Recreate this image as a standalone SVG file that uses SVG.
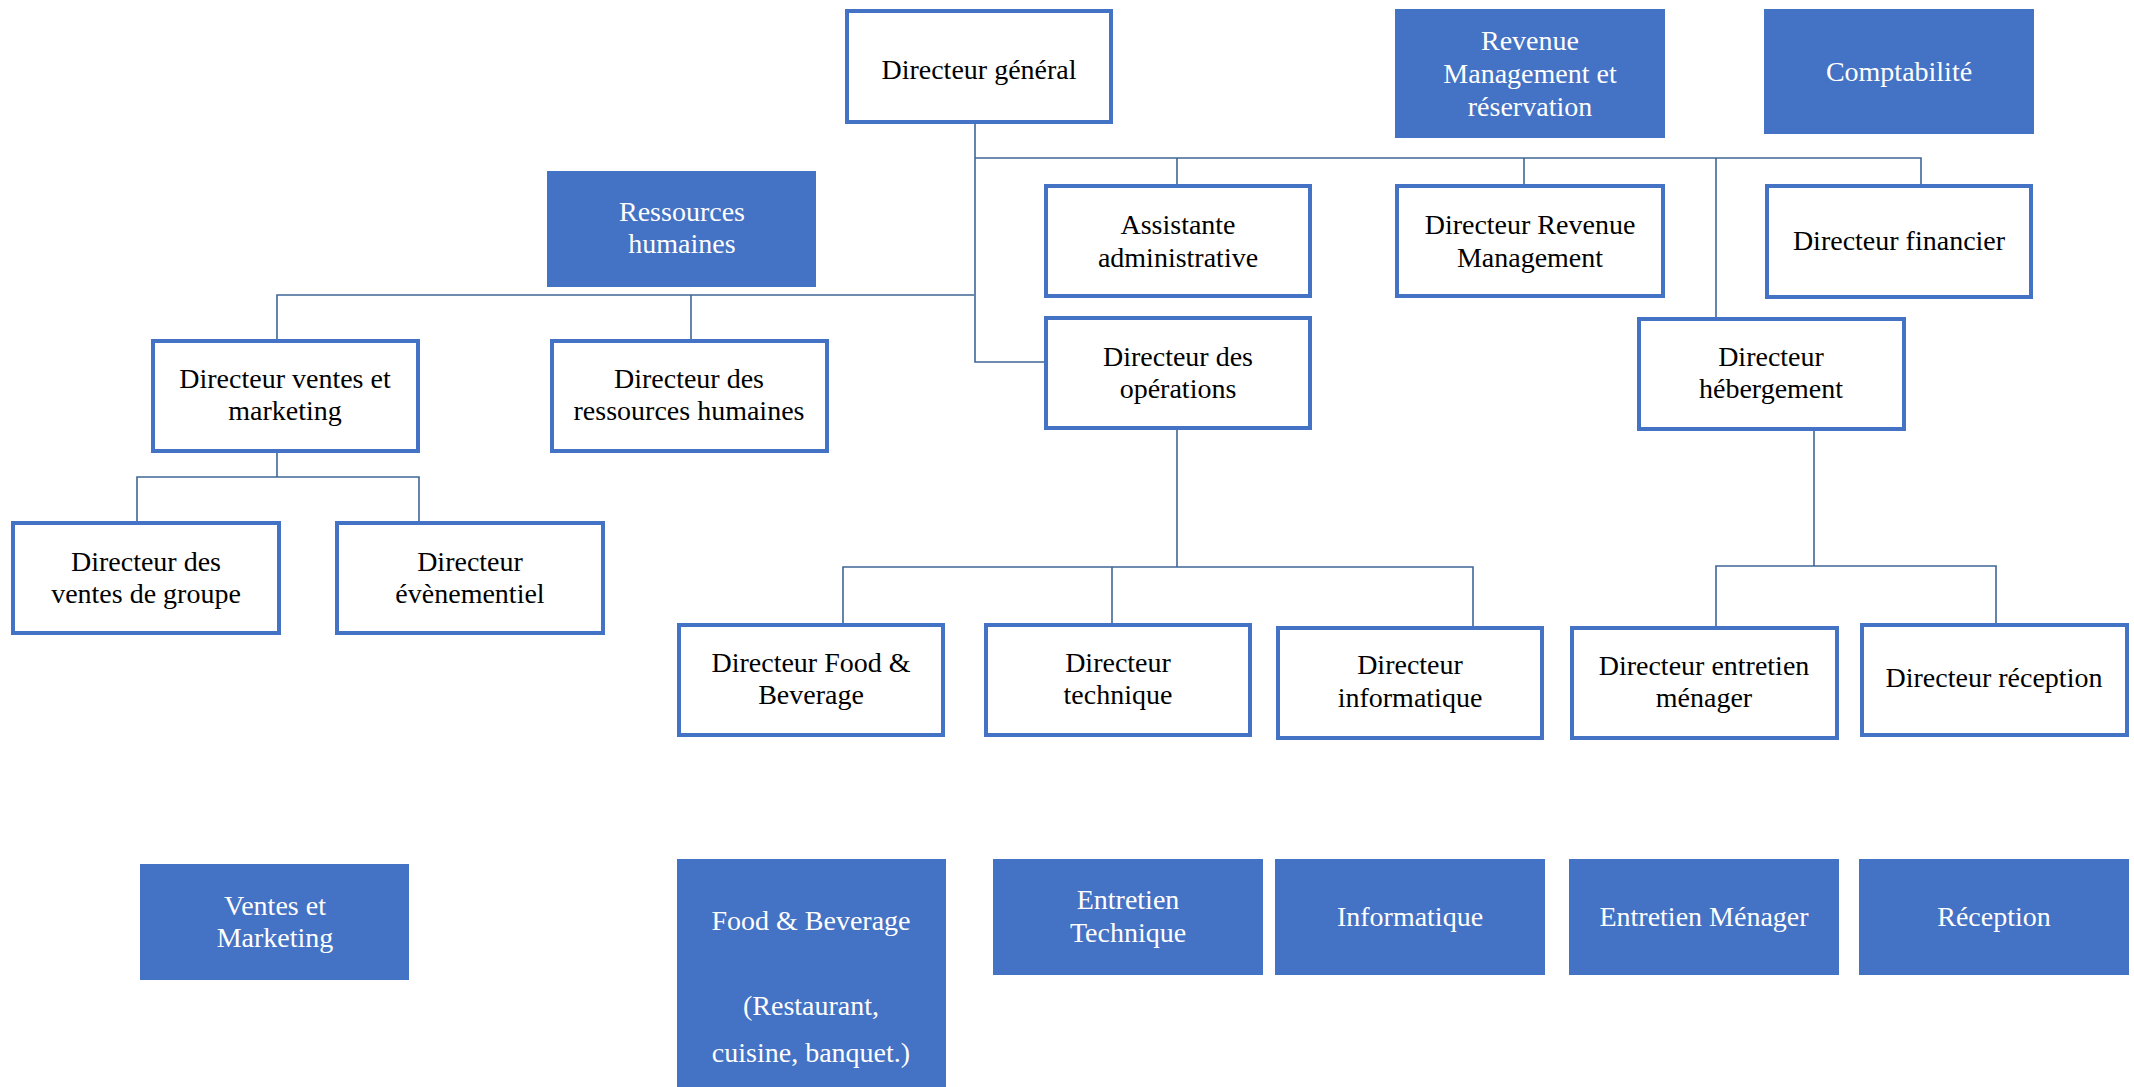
<svg xmlns="http://www.w3.org/2000/svg" width="2134" height="1087" viewBox="0 0 2134 1087">
  <style>
    .box { fill: #ffffff; stroke: #4472C4; stroke-width: 4; }
    .dept { fill: #4472C4; }
    text { font-family: 'Liberation Serif', 'Times New Roman', Times, serif; font-size: 28px; text-anchor: middle; }
    .lbl { fill: #000000; }
    .wlbl { fill: #ffffff; }
    .link { fill: none; stroke: #3F6597; stroke-width: 1.6; }
  </style>
  <rect width="2134" height="1087" fill="#ffffff"/>

  <!-- reporting lines -->
  <g id="connectors">
    <path class="link" d="M975,124 V362 H1044"/>
    <path class="link" d="M975,158 H1921 V184"/>
    <path class="link" d="M1177,158 V184"/>
    <path class="link" d="M1524,158 V184"/>
    <path class="link" d="M1716,158 V317"/>
    <path class="link" d="M974,295 H277 V339"/>
    <path class="link" d="M691,295 V339"/>
    <path class="link" d="M277,453 V477"/>
    <path class="link" d="M137,521 V477 H419 V521"/>
    <path class="link" d="M1177,430 V567"/>
    <path class="link" d="M843,623 V567 H1473 V626"/>
    <path class="link" d="M1112,567 V623"/>
    <path class="link" d="M1814,431 V566"/>
    <path class="link" d="M1716,626 V566 H1996 V623"/>
  </g>

  <!-- managers -->
  <g id="directeur-general" font-family="Liberation Serif, serif">
    <rect class="box" x="847" y="11" width="264" height="111"/>
    <text class="lbl" x="979" y="79">Directeur général</text>
  </g>
  <g id="assistante-administrative">
    <rect class="box" x="1046" y="186" width="264" height="110"/>
    <text class="lbl" x="1178" y="234">Assistante</text>
    <text class="lbl" x="1178" y="267">administrative</text>
  </g>
  <g id="directeur-revenue">
    <rect class="box" x="1397" y="186" width="266" height="110"/>
    <text class="lbl" x="1530" y="234">Directeur Revenue</text>
    <text class="lbl" x="1530" y="267">Management</text>
  </g>
  <g id="directeur-financier">
    <rect class="box" x="1767" y="186" width="264" height="111"/>
    <text class="lbl" x="1899" y="250">Directeur financier</text>
  </g>
  <g id="directeur-operations">
    <rect class="box" x="1046" y="318" width="264" height="110"/>
    <text class="lbl" x="1178" y="366">Directeur des</text>
    <text class="lbl" x="1178" y="398">opérations</text>
  </g>
  <g id="directeur-hebergement">
    <rect class="box" x="1639" y="319" width="265" height="110"/>
    <text class="lbl" x="1771" y="366">Directeur</text>
    <text class="lbl" x="1771" y="398">hébergement</text>
  </g>
  <g id="directeur-ventes-marketing">
    <rect class="box" x="153" y="341" width="265" height="110"/>
    <text class="lbl" x="285" y="388">Directeur ventes et</text>
    <text class="lbl" x="285" y="420">marketing</text>
  </g>
  <g id="directeur-rh">
    <rect class="box" x="552" y="341" width="275" height="110"/>
    <text class="lbl" x="689" y="388">Directeur des</text>
    <text class="lbl" x="689" y="420">ressources humaines</text>
  </g>
  <g id="directeur-ventes-groupe">
    <rect class="box" x="13" y="523" width="266" height="110"/>
    <text class="lbl" x="146" y="571">Directeur des</text>
    <text class="lbl" x="146" y="603">ventes de groupe</text>
  </g>
  <g id="directeur-evenementiel">
    <rect class="box" x="337" y="523" width="266" height="110"/>
    <text class="lbl" x="470" y="571">Directeur</text>
    <text class="lbl" x="470" y="603">évènementiel</text>
  </g>
  <g id="directeur-food-beverage">
    <rect class="box" x="679" y="625" width="264" height="110"/>
    <text class="lbl" x="811" y="672">Directeur Food &amp;</text>
    <text class="lbl" x="811" y="704">Beverage</text>
  </g>
  <g id="directeur-technique">
    <rect class="box" x="986" y="625" width="264" height="110"/>
    <text class="lbl" x="1118" y="672">Directeur</text>
    <text class="lbl" x="1118" y="704">technique</text>
  </g>
  <g id="directeur-informatique">
    <rect class="box" x="1278" y="628" width="264" height="110"/>
    <text class="lbl" x="1410" y="674">Directeur</text>
    <text class="lbl" x="1410" y="707">informatique</text>
  </g>
  <g id="directeur-entretien-menager">
    <rect class="box" x="1572" y="628" width="265" height="110"/>
    <text class="lbl" x="1704" y="675">Directeur entretien</text>
    <text class="lbl" x="1704" y="707">ménager</text>
  </g>
  <g id="directeur-reception">
    <rect class="box" x="1862" y="625" width="265" height="110"/>
    <text class="lbl" x="1994" y="687">Directeur réception</text>
  </g>

  <!-- departments -->
  <g id="dept-revenue">
    <rect class="dept" x="1395" y="9" width="270" height="129"/>
    <text class="wlbl" x="1530" y="50">Revenue</text>
    <text class="wlbl" x="1530" y="83">Management et</text>
    <text class="wlbl" x="1530" y="116">réservation</text>
  </g>
  <g id="dept-comptabilite">
    <rect class="dept" x="1764" y="9" width="270" height="125"/>
    <text class="wlbl" x="1899" y="81">Comptabilité</text>
  </g>
  <g id="dept-rh">
    <rect class="dept" x="547" y="171" width="269" height="116"/>
    <text class="wlbl" x="682" y="221">Ressources</text>
    <text class="wlbl" x="682" y="253">humaines</text>
  </g>
  <g id="dept-ventes-marketing">
    <rect class="dept" x="140" y="864" width="269" height="116"/>
    <text class="wlbl" x="275" y="915">Ventes et</text>
    <text class="wlbl" x="275" y="947">Marketing</text>
  </g>
  <g id="dept-food-beverage">
    <rect class="dept" x="677" y="859" width="269" height="228"/>
    <text class="wlbl" x="811" y="930">Food &amp; Beverage</text>
    <text class="wlbl" x="811" y="1015">(Restaurant,</text>
    <text class="wlbl" x="811" y="1062">cuisine, banquet.)</text>
  </g>
  <g id="dept-entretien-technique">
    <rect class="dept" x="993" y="859" width="270" height="116"/>
    <text class="wlbl" x="1128" y="909">Entretien</text>
    <text class="wlbl" x="1128" y="942">Technique</text>
  </g>
  <g id="dept-informatique">
    <rect class="dept" x="1275" y="859" width="270" height="116"/>
    <text class="wlbl" x="1410" y="926">Informatique</text>
  </g>
  <g id="dept-entretien-menager">
    <rect class="dept" x="1569" y="859" width="270" height="116"/>
    <text class="wlbl" x="1704" y="926">Entretien Ménager</text>
  </g>
  <g id="dept-reception">
    <rect class="dept" x="1859" y="859" width="270" height="116"/>
    <text class="wlbl" x="1994" y="926">Réception</text>
  </g>
</svg>
